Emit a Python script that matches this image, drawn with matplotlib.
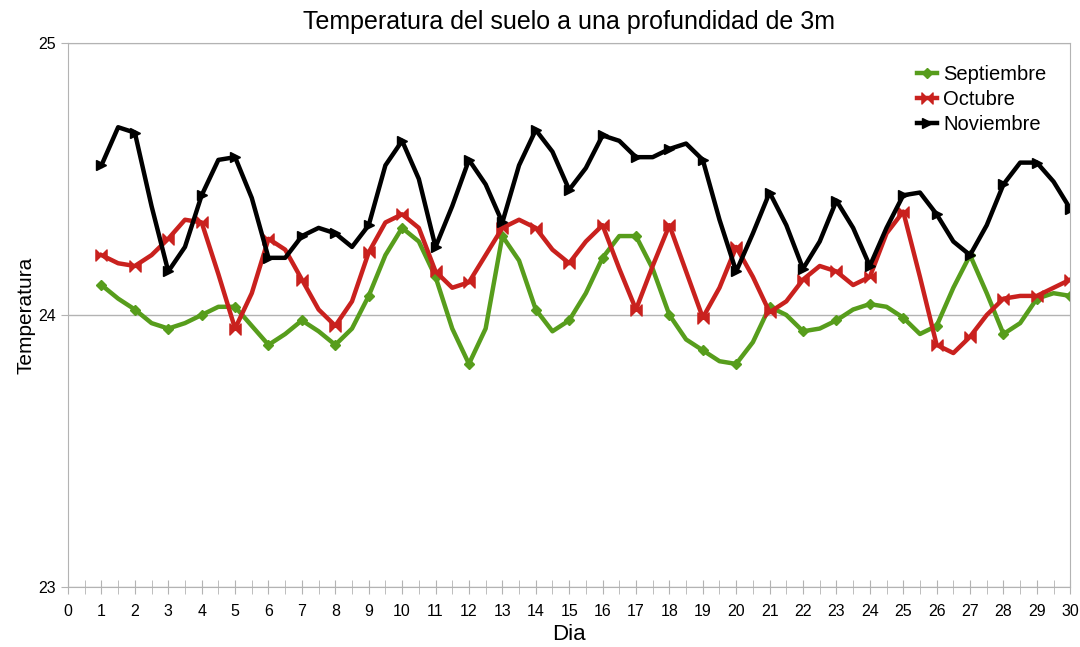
import matplotlib
matplotlib.use('Agg')
from matplotlib import pyplot as plt
from matplotlib.path import Path
from matplotlib.ticker import MultipleLocator
import numpy as np

# dias, cada medio dia
dias = np.arange(1, 30.01, 0.5)

septiembre = [24.11, 24.06, 24.02, 23.97, 23.95, 23.97, 24.00, 24.03, 24.03, 23.96,
              23.89, 23.93, 23.98, 23.94, 23.89, 23.95, 24.07, 24.22, 24.32, 24.27,
              24.14, 23.95, 23.82, 23.95, 24.29, 24.20, 24.02, 23.94, 23.98, 24.08,
              24.21, 24.29, 24.29, 24.17, 24.00, 23.91, 23.87, 23.83, 23.82, 23.90,
              24.03, 24.00, 23.94, 23.95, 23.98, 24.02, 24.04, 24.03, 23.99, 23.93,
              23.96, 24.10, 24.22, 24.08, 23.93, 23.97, 24.06, 24.08, 24.07]

octubre = [24.22, 24.19, 24.18, 24.22, 24.28, 24.35, 24.34, 24.15, 23.95, 24.08,
           24.28, 24.24, 24.13, 24.02, 23.96, 24.05, 24.23, 24.34, 24.37, 24.32,
           24.16, 24.10, 24.12, 24.22, 24.32, 24.35, 24.32, 24.24, 24.19, 24.27,
           24.33, 24.17, 24.02, 24.18, 24.33, 24.16, 23.99, 24.10, 24.25, 24.14,
           24.01, 24.05, 24.13, 24.18, 24.16, 24.11, 24.14, 24.30, 24.38, 24.14,
           23.89, 23.86, 23.92, 24.00, 24.06, 24.07, 24.07, 24.10, 24.13]

noviembre = [24.55, 24.69, 24.67, 24.40, 24.16, 24.25, 24.44, 24.57, 24.58, 24.43,
             24.21, 24.21, 24.29, 24.32, 24.30, 24.25, 24.33, 24.55, 24.64, 24.50,
             24.25, 24.40, 24.57, 24.48, 24.34, 24.55, 24.68, 24.60, 24.46, 24.54,
             24.66, 24.64, 24.58, 24.58, 24.61, 24.63, 24.57, 24.35, 24.16, 24.30,
             24.45, 24.33, 24.17, 24.27, 24.42, 24.32, 24.18, 24.32, 24.44, 24.45,
             24.37, 24.27, 24.22, 24.33, 24.48, 24.56, 24.56, 24.49, 24.39]

plt.rcParams['font.family'] = ['Liberation Sans', 'DejaVu Sans']

# marcador "corbata" para octubre
bowtie = Path([(-1, -1), (0, 0), (-1, 1), (-1, -1), (1, -1), (0, 0), (1, 1), (1, -1)],
              [Path.MOVETO, Path.LINETO, Path.LINETO, Path.CLOSEPOLY,
               Path.MOVETO, Path.LINETO, Path.LINETO, Path.CLOSEPOLY])

fig = plt.figure(figsize=(10.8, 6.47), dpi=100)
ax = fig.add_axes([0.063, 0.0927, 0.928, 0.841])

ax.plot(dias, septiembre, color='#579d1c', lw=3.2, marker='D', ms=5.5,
        markevery=(0, 2), label='Septiembre', solid_joinstyle='round')
ax.plot(dias, octubre, color='#c9211e', lw=3.2, marker=bowtie, ms=8,
        markevery=(0, 2), label='Octubre', solid_joinstyle='round')
ax.plot(dias, noviembre, color='#000000', lw=3.2, marker='>', ms=7,
        markevery=(0, 2), label='Noviembre', solid_joinstyle='round')

ax.set_xlim(0, 30)
ax.set_ylim(23, 25)
ax.xaxis.set_major_locator(MultipleLocator(1))
ax.xaxis.set_minor_locator(MultipleLocator(0.5))
ax.yaxis.set_major_locator(MultipleLocator(1))
ax.grid(axis='y', color='#b3b3b3', lw=1)
ax.set_axisbelow(True)
for s in ax.spines.values():
    s.set_color('#b3b3b3')
ax.tick_params(axis='x', which='both', direction='inout', length=10, color='#b3b3b3',
               labelsize=11.5, pad=7)
ax.tick_params(axis='y', length=5, color='#b3b3b3', labelsize=11.5)

ax.set_title('Temperatura del suelo a una profundidad de 3m', fontsize=18, pad=10)
ax.set_xlabel('Dia', fontsize=16, labelpad=4)
ax.set_ylabel('Temperatura', fontsize=15, labelpad=2)

ax.legend(loc='upper right', frameon=False, fontsize=14.5, handlelength=1.0,
          handletextpad=0.3, labelspacing=0.3, borderaxespad=0.3,
          bbox_to_anchor=(0.99, 0.985))

plt.savefig('out.png', dpi=100)
